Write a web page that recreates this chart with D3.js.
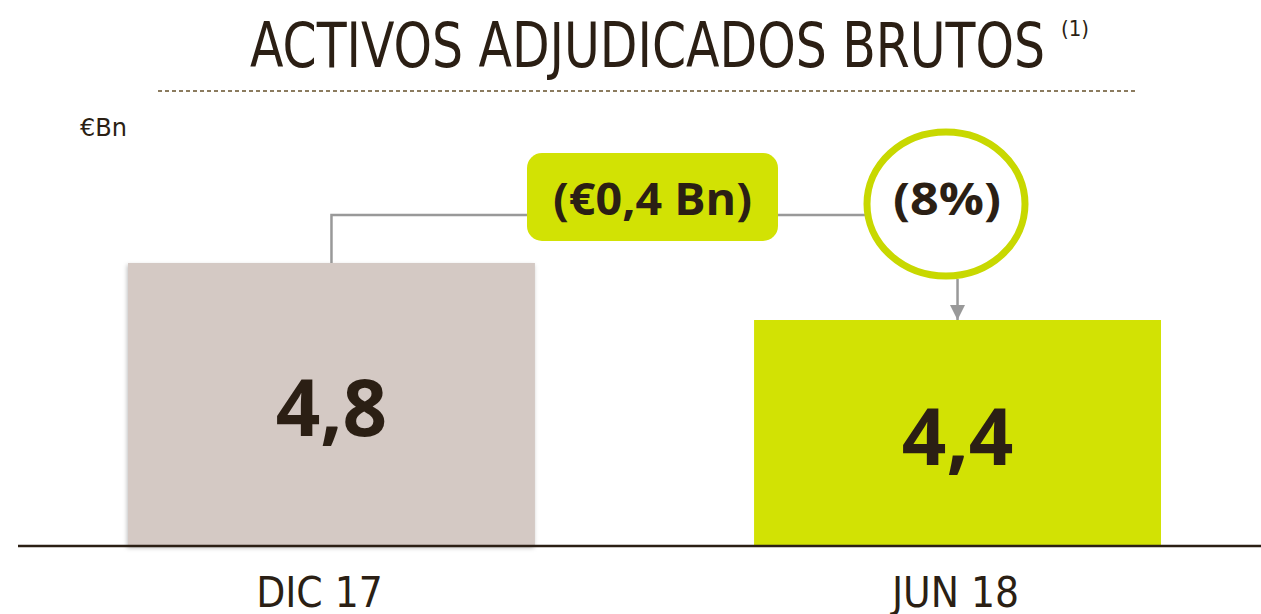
<!DOCTYPE html>
<html>
<head>
<meta charset="utf-8">
<script src="https://cdn.jsdelivr.net/npm/d3@7"></script>
<style>
  body { margin: 0; background: #fff; }
  svg { display: block; }
</style>
</head>
<body>
<svg id="chart"></svg>
<script>
const categories = ['DIC 17', 'JUN 18'];
const values = [4.8, 4.4];
const valueLabels = ['4,8', '4,4'];
const barColors = ['#d4c9c4', '#d2e204'];
const deltaLabel = '(€0,4 Bn)';
const pctLabel = '(8%)';

const width = 1261;
const height = 614;
const baseY = 546;
const ink = '#2b1f14';
const condensed = '"Liberation Sans Narrow", "DejaVu Sans Condensed", sans-serif';
const bold = '"Open Sans", "Noto Sans", sans-serif';

const svg = d3.select('#chart').attr('width', width).attr('height', height);

const defs = svg.append('defs');
defs.append('filter').attr('id', 'shadow').attr('x', '-5%').attr('y', '-5%').attr('width', '110%').attr('height', '110%')
  .append('feDropShadow').attr('dx', -1).attr('dy', 2).attr('stdDeviation', 2)
  .attr('flood-color', '#000').attr('flood-opacity', 0.25);
defs.append('marker').attr('id', 'arrow').attr('viewBox', '0 0 10 10')
  .attr('refX', 10).attr('refY', 5).attr('markerWidth', 15).attr('markerHeight', 15)
  .attr('markerUnits', 'userSpaceOnUse').attr('orient', 'auto')
  .append('path').attr('d', 'M0,0L10,5L0,10Z').attr('fill', '#999');

// scales: the source chart uses a truncated value axis
const xScale = d3.scaleBand().domain(categories).range([128, 1161]).paddingInner(0.35).paddingOuter(0);
const yScale = d3.scaleLinear().domain([2.814, 4.8]).range([baseY, 263]);

// title
svg.append('text').attr('x', 250).attr('y', 67)
  .attr('font-family', condensed).attr('font-size', 62).attr('fill', ink)
  .attr('textLength', 795).attr('lengthAdjust', 'spacingAndGlyphs')
  .text('ACTIVOS ADJUDICADOS BRUTOS');
svg.append('text').attr('x', 1061).attr('y', 36)
  .attr('font-family', condensed).attr('font-size', 22).attr('fill', ink)
  .text('(1)');
svg.append('line').attr('x1', 158).attr('x2', 1135).attr('y1', 91).attr('y2', 91)
  .attr('stroke', '#8b7b5e').attr('stroke-width', 2).attr('stroke-dasharray', '4,3');

svg.append('text').attr('x', 80).attr('y', 136)
  .attr('font-family', condensed).attr('font-size', 25).attr('fill', ink)
  .attr('textLength', 47).attr('lengthAdjust', 'spacingAndGlyphs')
  .text('€Bn');

// bars
const data = categories.map((c, i) => ({ cat: c, value: values[i], label: valueLabels[i], color: barColors[i] }));

svg.selectAll('rect.bar').data(data).enter().append('rect').attr('class', 'bar')
  .attr('x', d => xScale(d.cat))
  .attr('y', d => yScale(d.value))
  .attr('width', xScale.bandwidth())
  .attr('height', d => baseY - yScale(d.value))
  .attr('fill', d => d.color)
  .attr('filter', (d, i) => i === 0 ? 'url(#shadow)' : null);

svg.selectAll('text.val').data(data).enter().append('text').attr('class', 'val')
  .attr('x', d => xScale(d.cat) + xScale.bandwidth() / 2)
  .attr('y', d => (yScale(d.value) + baseY) / 2)
  .attr('dy', '0.41em')
  .attr('text-anchor', 'middle')
  .attr('font-family', bold).attr('font-weight', 700).attr('font-size', 78).attr('fill', ink)
  .text(d => d.label);

// baseline + category axis
svg.append('line').attr('x1', 18).attr('x2', width).attr('y1', baseY).attr('y2', baseY)
  .attr('stroke', ink).attr('stroke-width', 2.5);

const xAxis = d3.axisBottom(xScale).tickSize(0).tickPadding(0);
const axisG = svg.append('g').attr('transform', `translate(0,${baseY})`).call(xAxis);
axisG.select('.domain').remove();
axisG.selectAll('text')
  .attr('y', 61).attr('dy', 0).attr('dx', (d, i) => i === 0 ? -12 : -2)
  .attr('font-family', condensed).attr('font-size', 42).attr('fill', ink);

// change callout
const c0 = xScale(categories[0]) + xScale.bandwidth() / 2;
const c1 = xScale(categories[1]) + xScale.bandwidth() / 2;
const lineY = 215;
const box = { x: 527, y: 153, w: 251, h: 88 };
const circ = { cx: 946, cy: 204, rx: 79, ry: 72 };

svg.append('path')
  .attr('d', `M${c0},${yScale(values[0])}V${lineY}H${box.x}M${box.x + box.w},${lineY}H${circ.cx - circ.rx}`)
  .attr('fill', 'none').attr('stroke', '#999').attr('stroke-width', 2.5);
svg.append('line').attr('x1', c1).attr('x2', c1)
  .attr('y1', circ.cy + circ.ry + 3).attr('y2', yScale(values[1]))
  .attr('stroke', '#999').attr('stroke-width', 2.5).attr('marker-end', 'url(#arrow)');

svg.append('rect').attr('x', box.x).attr('y', box.y).attr('width', box.w).attr('height', box.h)
  .attr('rx', 15).attr('fill', '#d2e204');
svg.append('text').attr('x', box.x + box.w / 2).attr('y', 215)
  .attr('text-anchor', 'middle')
  .attr('font-family', bold).attr('font-weight', 700).attr('font-size', 44).attr('fill', ink)
  .attr('textLength', 199).attr('lengthAdjust', 'spacingAndGlyphs')
  .text(deltaLabel);

svg.append('ellipse').attr('cx', circ.cx).attr('cy', circ.cy).attr('rx', circ.rx).attr('ry', circ.ry)
  .attr('fill', '#fff').attr('stroke', '#c8d800').attr('stroke-width', 7);
svg.append('text').attr('x', circ.cx + 1).attr('y', 215)
  .attr('text-anchor', 'middle')
  .attr('font-family', bold).attr('font-weight', 700).attr('font-size', 44).attr('fill', ink)
  .attr('textLength', 108).attr('lengthAdjust', 'spacingAndGlyphs')
  .text(pctLabel);
</script>
</body>
</html>
